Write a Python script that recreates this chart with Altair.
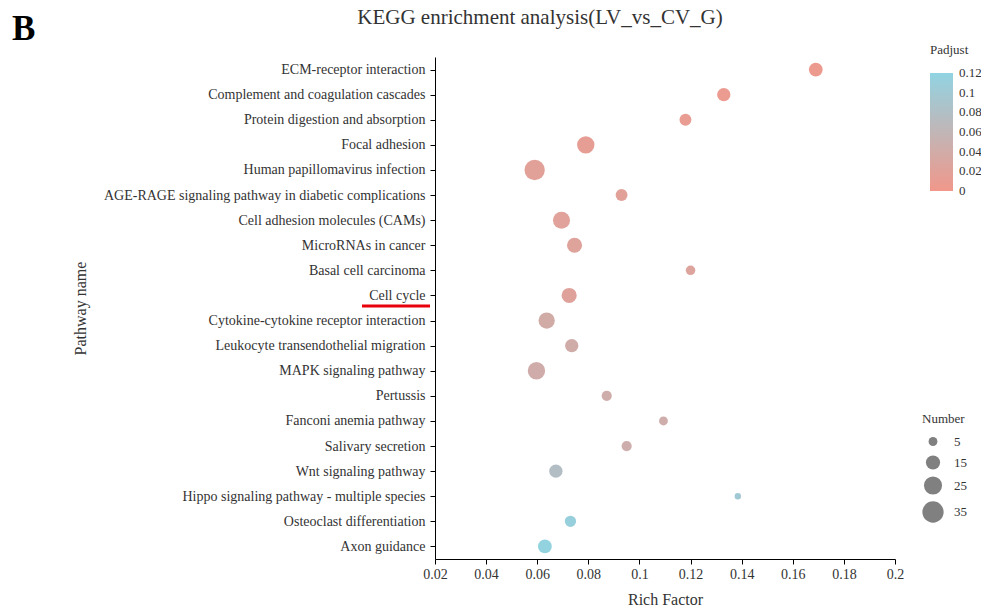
import altair as alt
import pandas as pd

pathways = [
    "ECM-receptor interaction",
    "Complement and coagulation cascades",
    "Protein digestion and absorption",
    "Focal adhesion",
    "Human papillomavirus infection",
    "AGE-RAGE signaling pathway in diabetic complications",
    "Cell adhesion molecules (CAMs)",
    "MicroRNAs in cancer",
    "Basal cell carcinoma",
    "Cell cycle",
    "Cytokine-cytokine receptor interaction",
    "Leukocyte transendothelial migration",
    "MAPK signaling pathway",
    "Pertussis",
    "Fanconi anemia pathway",
    "Salivary secretion",
    "Wnt signaling pathway",
    "Hippo signaling pathway - multiple species",
    "Osteoclast differentiation",
    "Axon guidance",
]
rich_factor = [0.169, 0.133, 0.118, 0.079, 0.059, 0.093, 0.0695, 0.0746, 0.120, 0.0725,
               0.0637, 0.0735, 0.0597, 0.0872, 0.1094, 0.095, 0.0673, 0.1385, 0.073, 0.063]
number = [14, 13, 10, 23, 32, 10, 22, 17, 6, 17,
          20, 13, 23, 7, 5, 7, 13, 2, 9, 14]
padjust = [0.004, 0.007, 0.010, 0.012, 0.018, 0.019, 0.021, 0.023, 0.025, 0.022,
           0.040, 0.041, 0.042, 0.043, 0.044, 0.045, 0.078, 0.100, 0.112, 0.118]

x_ticks = [0.02, 0.04, 0.06, 0.08, 0.10, 0.12, 0.14, 0.16, 0.18, 0.20]
padj_ticks = [0, 0.02, 0.04, 0.06, 0.08, 0.10, 0.12]
padj_domain = [-0.0005, 0.1205]
number_ticks = [5, 15, 25, 35]

highlight = ["Cell cycle"]
title_text = ["KEGG enrichment analysis(LV_vs_CV_G)"]
panel_text = ["B"]

FONT = "Liberation Serif"

df = pd.DataFrame({"Pathway": pathways, "Rich": rich_factor, "Number": number, "Padjust": padjust})

y_scale = alt.Scale(type="point", padding=0.5)

points = alt.Chart(df).mark_circle(opacity=0.85).encode(
    x=alt.X("Rich:Q",
            scale=alt.Scale(domain=[0.02, 0.2], nice=False, zero=False),
            axis=alt.Axis(values=x_ticks, format=".2~f", title="Rich Factor", grid=False,
                          tickSize=5, labelPadding=3, titlePadding=10, labelFlush=False,
                          domainColor="#000", tickColor="#000")),
    y=alt.Y("Pathway:N", sort=pathways, scale=y_scale,
            axis=alt.Axis(title="Pathway name", grid=False, tickSize=5, labelPadding=5,
                          titleX=-347, titleY=251, titleAngle=-90, titleBaseline="bottom",
                          titleAlign="center", labelLimit=500,
                          domainColor="#000", tickColor="#000")),
    color=alt.Color("Padjust:Q",
                    scale=alt.Scale(domain=padj_domain, range=["#EE8576", "#7ECCDD"],
                                    interpolate="rgb", nice=False, zero=False),
                    legend=alt.Legend(title="Padjust", orient="none", legendX=495, legendY=-13,
                                      values=padj_ticks, format=".2~f", gradientLength=118,
                                      gradientThickness=23, direction="vertical",
                                      labelOffset=6, labelOverlap=False, labelBaseline="middle",
                                      titlePadding=16)),
    size=alt.Size("Number:Q",
                  scale=alt.Scale(domain=[5, 35], range=[78.5, 452], zero=False),
                  legend=alt.Legend(title="Number", orient="none", legendX=487, legendY=356,
                                    values=number_ticks, symbolFillColor="#808080",
                                    symbolStrokeColor="#808080", symbolStrokeWidth=0,
                                    symbolOpacity=1, labelOffset=10, rowPadding=6,
                                    titlePadding=9)),
)

underline = alt.Chart(pd.DataFrame({"Pathway": highlight})).mark_rule(
    color="#E8000B", strokeWidth=3, yOffset=10.5
).encode(
    y=alt.Y("Pathway:N", sort=pathways, scale=y_scale),
    x=alt.value(-73),
    x2=alt.value(-5),
)

title = alt.Chart(pd.DataFrame({"t": title_text})).mark_text(
    font=FONT, fontSize=21, color="#333", align="center", baseline="alphabetic"
).encode(text="t:N", x=alt.value(105), y=alt.value(-33))

panel = alt.Chart(pd.DataFrame({"t": panel_text})).mark_text(
    font=FONT, fontSize=35, fontWeight="bold", color="#000", align="left", baseline="alphabetic"
).encode(text="t:N", x=alt.value(-423), y=alt.value(-17))

chart = alt.layer(points, underline, title, panel).properties(
    width=460, height=502,
    autosize=alt.AutoSizeParams(type="none"),
    padding={"left": 427, "top": 49, "right": 86, "bottom": 52},
).configure_view(stroke=None).configure_axis(
    labelFont=FONT, titleFont=FONT, labelFontSize=14, titleFontSize=16,
    labelColor="#333", titleColor="#333", titleFontWeight="normal",
).configure_legend(
    labelFont=FONT, titleFont=FONT, labelFontSize=13, titleFontSize=13,
    labelColor="#333", titleColor="#333", titleFontWeight="normal",
)

chart.save("out.html", embed_options={"renderer": "svg", "actions": False})
